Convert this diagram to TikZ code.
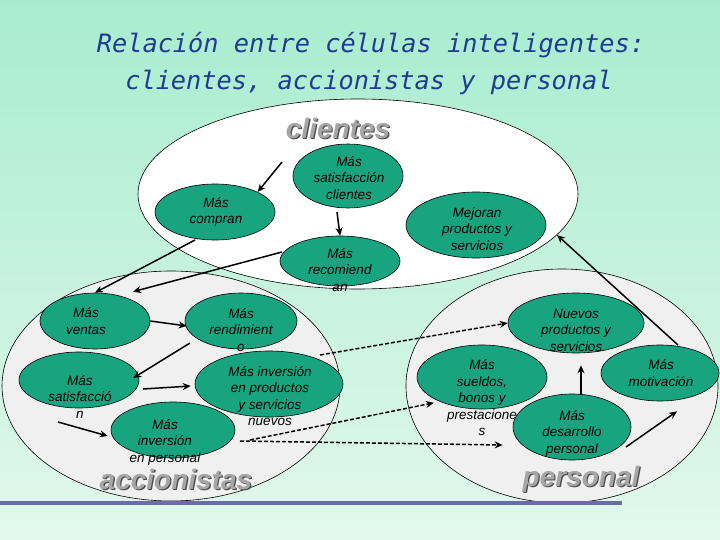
\documentclass[tikz,border=0pt]{standalone}
\usepackage{fontspec}
\setmainfont{Liberation Sans}
\newfontfamily\titlefont{DejaVu Sans Mono}
\usetikzlibrary{shapes.geometric,arrows.meta}
\definecolor{cellg}{HTML}{17A47F}
\definecolor{titleblue}{HTML}{1E3C96}
\definecolor{grp}{HTML}{F0F0F0}
\begin{document}
\begin{tikzpicture}[x=1pt,y=-1pt,
  cell/.style={ellipse,draw=black,fill=cellg,line width=0.6pt,inner sep=0pt},
  celltext/.style={align=center,font=\itshape\fontsize{13.5}{16.5}\selectfont,inner sep=0pt},
  big/.style={ellipse,draw=black,line width=0.6pt,inner sep=0pt},
  arr/.style={-{Stealth[length=8pt,width=7pt]},line width=1.5pt},
  darr/.style={arr,dash pattern=on 4pt off 2pt},
  grplbl/.style={font=\bfseries\itshape\fontsize{28}{30}\selectfont,inner sep=0pt},
  grpshadow/.style={grplbl,text=black!70},
  grptop/.style={grplbl,text=black!35}]
\shade[top color={rgb,255:red,168;green,236;blue,206},bottom color={rgb,255:red,226;green,248;blue,238}] (0,0) rectangle (720,540);
\useasboundingbox (0,0) rectangle (720,540);
% title
\node[font=\titlefont\itshape\fontsize{25.3}{30}\selectfont,text=titleblue] (t1) at (371,45) {Relación  entre células inteligentes:};
\node[font=\titlefont\itshape\fontsize{25.3}{30}\selectfont,text=titleblue] (t2) at (369,82) {clientes, accionistas y personal};
% groups
\node[big,fill=grp,minimum width=338pt,minimum height=230pt] (gA) at (171,386) {};
\node[big,fill=grp,minimum width=312pt,minimum height=234pt] (gP) at (562,386) {};
\node[big,fill=white,minimum width=440pt,minimum height=190pt] (gC) at (358,194) {};
\draw[line width=4pt,color={rgb,255:red,106;green,111;blue,160}] (0,503) -- (622,503);
% group labels
\node[grpshadow] (lc0) at (339.2,129.2) {clientes};
\node[grptop] (lc) at (338,128) {clientes};
\node[grpshadow] (la0) at (177.2,480.2) {accionistas};
\node[grptop] (la) at (176,479) {accionistas};
\node[grpshadow] (lp0) at (582.2,480.2) {personal};
\node[grptop] (lp) at (581,479) {personal};
% cells
\node[cell,minimum width=110pt,minimum height=64pt] (satcli) at (348,176) {};
\node[cell,minimum width=120pt,minimum height=56pt] (compran) at (215,212) {};
\node[cell,minimum width=120pt,minimum height=50pt] (recom) at (340,261) {};
\node[cell,minimum width=140pt,minimum height=66pt] (mejoran) at (476,225) {};
\node[cell,minimum width=110pt,minimum height=56pt] (ventas) at (95,321) {};
\node[cell,minimum width=112pt,minimum height=56pt] (rend) at (241,321) {};
\node[cell,minimum width=120pt,minimum height=56pt] (satis) at (79,380) {};
\node[cell,minimum width=148pt,minimum height=66pt] (invprod) at (269,384) {};
\node[cell,minimum width=124pt,minimum height=56pt] (invpers) at (173,430) {};
\node[cell,minimum width=136pt,minimum height=60pt] (nuevos) at (576,323) {};
\node[cell,minimum width=130pt,minimum height=64pt] (sueldos) at (482,377) {};
\node[cell,minimum width=118pt,minimum height=56pt] (motiv) at (660,373) {};
\node[cell,minimum width=118pt,minimum height=66pt] (desarr) at (572,427) {};
% texts
\node[celltext] (x1) at (349,178) {Más\\satisfacción\\clientes};
\node[celltext] (x2) at (216,212) {Más\\compran};
\node[celltext] (x3) at (340,270) {Más\\recomiend\\an};
\node[celltext] (x4) at (477,229) {Mejoran\\productos y\\servicios};
\node[celltext] (x5) at (86,321) {Más\\ventas};
\node[celltext] (x6) at (241,330) {Más\\rendimient\\o};
\node[celltext] (x7) at (80,397) {Más\\satisfacció\\n};
\node[celltext] (x8) at (270,396) {Más inversión\\en productos\\y servicios\\nuevos};
\node[celltext] (x9) at (165,442) {Más\\inversión\\en personal};
\node[celltext] (x10) at (576,330) {Nuevos\\productos y\\servicios};
\node[celltext] (x11) at (482,398) {Más\\sueldos,\\bonos y\\prestacione\\s};
\node[celltext] (x12) at (661,373) {Más\\motivación};
\node[celltext] (x13) at (572,433) {Más\\desarrollo\\personal};
% arrows
\coordinate (a1) at (282,162);
\coordinate (a2) at (337,212);
\coordinate (a3) at (195,240);
\coordinate (a4) at (282,252);
\coordinate (a5) at (190,343);
\coordinate (a6) at (143,389);
\coordinate (a7) at (58,422);
\coordinate (a8) at (320,355);
\coordinate (a9) at (250,440);
\coordinate (a10) at (240,441);
\coordinate (a11) at (581,395);
\coordinate (a12) at (626,447);
\coordinate (a13) at (678,345);
\coordinate (b13) at (557,235);
\draw[arr] (a1) -- (compran.north east);
\draw[arr] (a2) -- (recom.north);
\draw[arr] (a3) -- (ventas.north);
\draw[arr] (a4) -- ([shift={(38,-1)}]ventas.north);
\draw[arr] (ventas.east) -- ([shift={(2,5)}]rend.west);
\draw[arr] (a5) -- ([shift={(-6,-2)}]satis.east);
\draw[arr] (a6) -- ([shift={(-4,2)}]invprod.west);
\draw[arr] (a7) -- ([shift={(-3,6)}]invpers.west);
\draw[darr] (a8) -- (nuevos.west);
\draw[darr] (a9) -- ([shift={(-2,3)}]sueldos.south west);
\draw[darr] (a10) -- ([shift={(-10,18)}]desarr.west);
\draw[arr] (a11) -- ([shift={(5,12)}]nuevos.south);
\draw[arr] (a12) -- ([shift={(17,10)}]motiv.south);
\draw[arr] (a13) -- (b13);
\end{tikzpicture}
\end{document}
